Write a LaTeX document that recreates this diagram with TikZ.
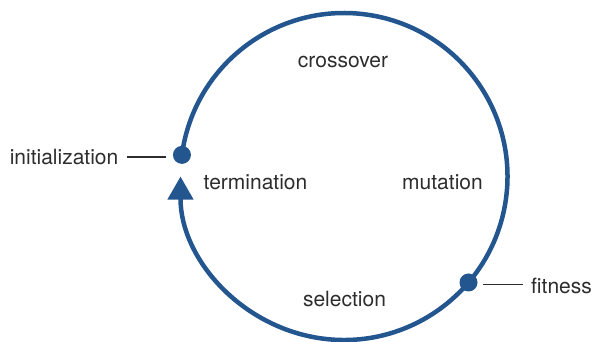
\documentclass[tikz,border=0pt]{standalone}
\usepackage{fontspec}
\setmainfont{TeX Gyre Heros}
\usetikzlibrary{arrows.meta}
\definecolor{cycleblue}{RGB}{35,85,143}
\definecolor{labelgray}{RGB}{45,45,45}
\begin{document}
\begin{tikzpicture}[x=1pt,y=-1pt,
  ring/.style={draw=cycleblue,line width=4.5pt},
  ringdot/.style={circle,fill=cycleblue,inner sep=0pt,minimum size=18pt},
  lbl/.style={inner sep=0pt,text=labelgray,font=\fontsize{21}{25}\selectfont},
  leader/.style={draw=labelgray,line width=1.1pt}]
\useasboundingbox (0,0) rectangle (596,341);
\coordinate (c) at (344,176.5);
% main cycle arc with arrow
\draw[ring,-{Triangle[length=23pt,width=25pt]}] ([shift={(187.6:163.5)}]c) arc[start angle=187.6,end angle=540,radius=163.5];
% dots
\node[ringdot] (initdot) at ([shift={(187.6:163.5)}]c) {};
\node[ringdot] (fitdot) at ([shift={(40.4:163.5)}]c) {};
% labels
\node[lbl,anchor=base east] (initlabel) at (118.5,164.5) {initialization};
\node[lbl,anchor=base west] (fitlabel) at (531,293) {fitness};
\node[lbl,anchor=base] (crossover) at (343,67) {crossover};
\node[lbl,anchor=base] (termination) at (255.5,189) {termination};
\node[lbl,anchor=base] (mutation) at (442.5,189) {mutation};
\node[lbl,anchor=base] (selection) at (344.5,306.5) {selection};
% leaders
\coordinate (initA) at (127,157);
\coordinate (initB) at (166,157);
\coordinate (fitA) at (483,284.5);
\coordinate (fitB) at (523,284.5);
\draw[leader] (initA) -- (initB);
\draw[leader] (fitA) -- (fitB);
\end{tikzpicture}
\end{document}
